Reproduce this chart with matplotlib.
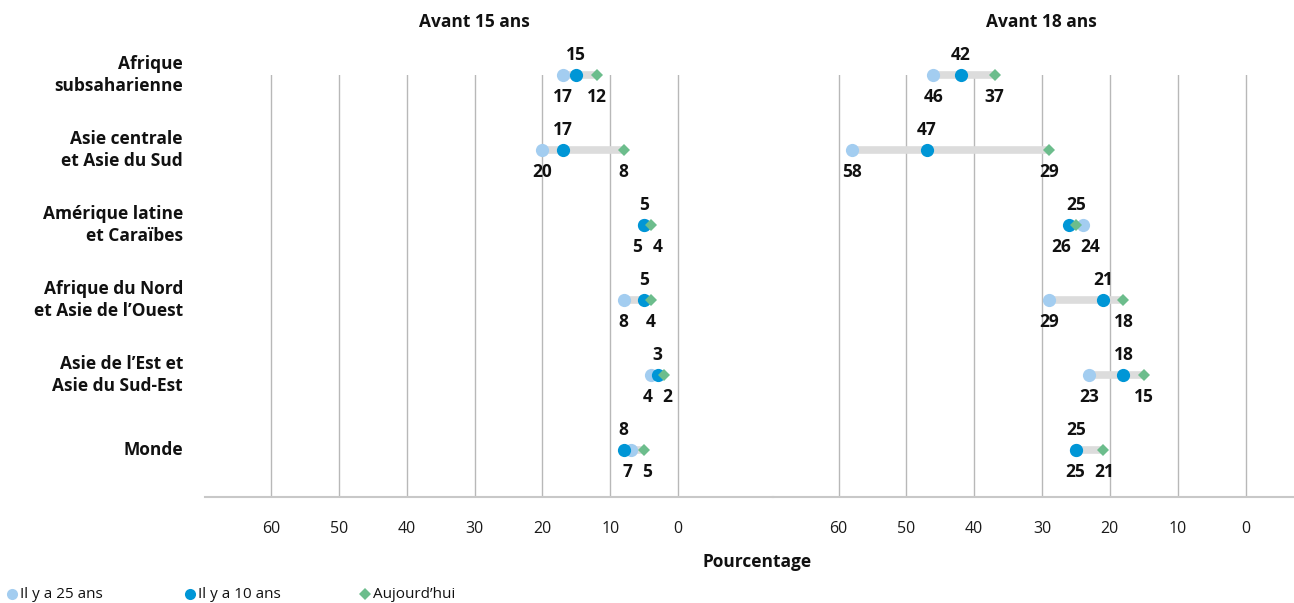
import matplotlib
matplotlib.use("Agg")
import matplotlib.pyplot as plt
from matplotlib.lines import Line2D
from matplotlib import transforms

plt.rcParams['font.family'] = ['Open Sans', 'DejaVu Sans']

# Regions (top to bottom)
regions = [
    "Afrique\nsubsaharienne",
    "Asie centrale\net Asie du Sud",
    "Amérique latine\net Caraïbes",
    "Afrique du Nord\net Asie de l\u2019Ouest",
    "Asie de l\u2019Est et\nAsie du Sud-Est",
    "Monde",
]

# Percentage married before age 15
u15_25y = [17, 20, 5, 8, 4, 7]
u15_10y = [15, 17, 5, 5, 3, 8]
u15_now = [12, 8, 4, 4, 2, 5]

# Percentage married before age 18
u18_25y = [46, 58, 24, 29, 23, 25]
u18_10y = [42, 47, 26, 21, 18, 25]
u18_now = [37, 29, 25, 18, 15, 21]

# Which series carries the label above the dumbbell (0=25y, 1=10y, 2=now)
u15_top = [1, 1, 1, 1, 1, 1]
u18_top = [1, 1, 2, 1, 1, 1]

panel_titles = ["Avant 15 ans", "Avant 18 ans"]
ticks = [60, 50, 40, 30, 20, 10, 0]
series_names = ["Il y a 25 ans", "Il y a 10 ans", "Aujourd\u2019hui"]

c_25 = "#a3cdf0"
c_10 = "#0096d6"
c_now = "#6cbd8c"
c_bar = "#dcdcdc"
c_grid = "#b8b8b8"
c_text = "#111111"

W, H = 1294, 603
fig = plt.figure(figsize=(W / 100, H / 100), dpi=100)

def fx(px):
    return px / W

def fy(py):
    return 1 - py / H

ax_bottom = fy(497)
ax_h = (497 - 75) / H
axL = fig.add_axes([fx(205), ax_bottom, fx(773 - 205), ax_h])
axR = fig.add_axes([fx(773), ax_bottom, fx(1294 - 773), ax_h])

panels = [
    (axL, (69.73, -14.0), u15_25y, u15_10y, u15_now, u15_top),
    (axR, (69.66, -7.15), u18_25y, u18_10y, u18_now, u18_top),
]

def spread(xs, labels):
    """Push two neighbouring below-labels apart so they do not collide."""
    a, b = xs
    la, lb = labels
    need = (len(la) + len(lb)) * 0.68 + 1.6
    # axis is reversed: larger value sits to the left
    swapped = a < b
    if swapped:
        a, b = b, a
    if a - b < need:
        mid = (a + b) / 2
        a, b = mid + need / 2, mid - need / 2
    return [b, a] if swapped else [a, b]

for ax, xlim, s25, s10, snow, tops in panels:
    ax.set_xlim(*xlim)
    ax.set_ylim(5.627, 0)
    for t in ticks:
        ax.axvline(t, color=c_grid, lw=1.0, zorder=0)
    for sp in ["top", "left", "right"]:
        ax.spines[sp].set_visible(False)
    ax.spines["bottom"].set_color("#c8c8c8")
    ax.spines["bottom"].set_linewidth(1.5)
    ax.set_yticks([])
    ax.set_xticks(ticks)
    ax.set_xticklabels([str(t) for t in ticks], fontsize=11.5, color="#1a1a1a")
    ax.tick_params(axis="x", length=0, pad=17)
    ax.patch.set_alpha(0)

    for i in range(len(regions)):
        vals = [s25[i], s10[i], snow[i]]
        ax.plot([min(vals), max(vals)], [i, i], color=c_bar, lw=5.5,
                solid_capstyle="butt", zorder=2, clip_on=False)
        ax.plot(s25[i], i, "o", color=c_25, ms=9.5, mew=0, zorder=3, clip_on=False)
        ax.plot(s10[i], i, "o", color=c_10, ms=9.5, mew=0, zorder=4, clip_on=False)
        ax.plot(snow[i], i, "D", color=c_now, ms=6.5, mew=0, zorder=5, clip_on=False)

        top = tops[i]
        ax.text(vals[top], i - 0.27, str(vals[top]), ha="center", va="center",
                fontsize=12.5, fontweight="bold", color=c_text)
        below = [k for k in range(3) if k != top]
        bl = [str(vals[k]) for k in below]
        bx = spread([vals[k] for k in below], bl)
        for x, lab in zip(bx, bl):
            ax.text(x, i + 0.30, lab, ha="center", va="center",
                    fontsize=12.5, fontweight="bold", color=c_text)

# Region labels
trans = transforms.blended_transform_factory(axL.transAxes, axL.transData)
for i, name in enumerate(regions):
    axL.text((183 - 205) / (773 - 205), i, name, transform=trans, ha="right",
             va="center", fontsize=12.5, fontweight="bold", color=c_text,
             linespacing=1.25)

# Panel titles
fig.text(fx(474), fy(22), panel_titles[0], ha="center", va="center",
         fontsize=12.5, fontweight="bold", color=c_text)
fig.text(fx(1041), fy(22), panel_titles[1], ha="center", va="center",
         fontsize=12.5, fontweight="bold", color=c_text)

# Axis title
fig.text(fx(757), fy(562), "Pourcentage", ha="center", va="center",
         fontsize=12.5, fontweight="bold", color=c_text)

# Legend
legend_items = [
    (12, "o", c_25, 8.0),
    (190, "o", c_10, 8.0),
    (365, "D", c_now, 6.5),
]
for (x, mk, col, ms), name in zip(legend_items, series_names):
    fig.add_artist(Line2D([fx(x)], [fy(594)], marker=mk, ls="", color=col,
                          ms=ms, mew=0, transform=fig.transFigure))
    fig.text(fx(x + 8), fy(594), name, ha="left", va="center",
             fontsize=11, color=c_text)

fig.savefig("out.png", dpi=100)
